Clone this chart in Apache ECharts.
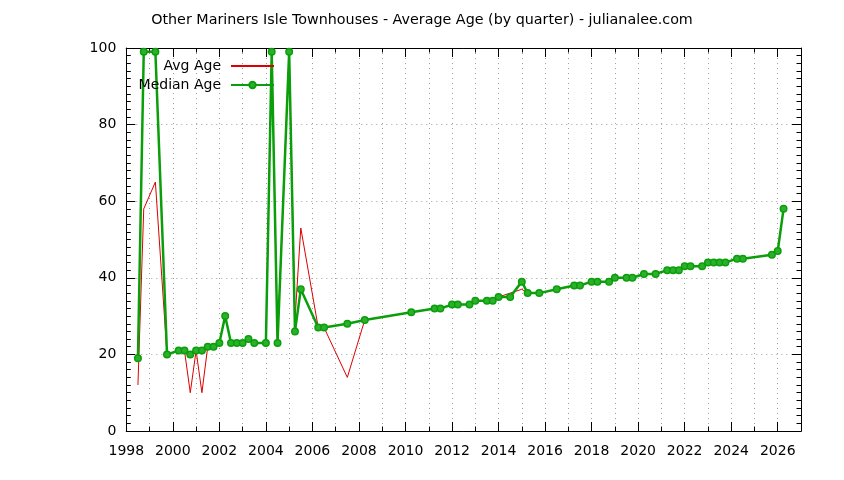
<!DOCTYPE html>
<html>
<head>
<meta charset="utf-8">
<script src="https://cdn.jsdelivr.net/npm/echarts@6/dist/echarts.min.js"></script>
<style>
  html, body { margin: 0; padding: 0; background: #fff; }
  #chart { width: 844px; height: 480px; }
</style>
</head>
<body>
<div id="chart"></div>
<script>
// quarter positions (decimal years)
var quarters = [1998.5, 1998.75, 1999.25, 1999.75, 2000.25, 2000.5, 2000.75, 2001.0, 2001.25, 2001.5,
  2001.75, 2002.0, 2002.25, 2002.5, 2002.75, 2003.0, 2003.25, 2003.5, 2004.0, 2004.25,
  2004.5, 2005.0, 2005.25, 2005.5, 2006.25, 2006.5, 2007.5, 2008.25, 2010.25, 2011.25,
  2011.5, 2012.0, 2012.25, 2012.75, 2013.0, 2013.5, 2013.75, 2014.0, 2014.5, 2015.0,
  2015.25, 2015.75, 2016.5, 2017.25, 2017.5, 2018.0, 2018.25, 2018.75, 2019.0, 2019.5,
  2019.75, 2020.25, 2020.75, 2021.25, 2021.5, 2021.75, 2022.0, 2022.25, 2022.75, 2023.0,
  2023.25, 2023.5, 2023.75, 2024.25, 2024.5, 2025.75, 2026.0, 2026.25];

var avgAge = [12, 58, 65, 20, 21, 21, 10, 21, 10, 22,
  22, 23, 30, 23, 23, 23, 24, 23, 23, 99,
  23, 99, 29, 53, 27, 27, 14, 29, 31, 32,
  32, 33, 33, 33, 34, 34, 34, 35, 36, 37,
  36, 36, 37, 38, 38, 39, 39, 39, 40, 40,
  40, 41, 41, 42, 42, 42, 43, 43, 43, 44,
  44, 44, 44, 45, 45, 46, 47, 58];

var medianAge = [19, 99, 99, 20, 21, 21, 20, 21, 21, 22,
  22, 23, 30, 23, 23, 23, 24, 23, 23, 99,
  23, 99, 26, 37, 27, 27, 28, 29, 31, 32,
  32, 33, 33, 33, 34, 34, 34, 35, 35, 39,
  36, 36, 37, 38, 38, 39, 39, 39, 40, 40,
  40, 41, 41, 42, 42, 42, 43, 43, 43, 44,
  44, 44, 44, 45, 45, 46, 47, 58];

var chartTitle = 'Other Mariners Isle Townhouses - Average Age (by quarter) - julianalee.com';

var FONT = 'DejaVu Sans';
var FS = 14;
var dotted = { color: '#a0a0a0', width: 1, type: [1, 4] };
var frame = { show: true, lineStyle: { color: '#000', width: 1 } };

function xAx(pos, step, tickLen, labels, grid) {
  return {
    type: 'value', position: pos, min: 1998, max: 2027, interval: step,
    axisLine: frame,
    axisTick: { show: true, inside: true, length: tickLen, lineStyle: { color: '#000' } },
    axisLabel: labels ? {
      show: true, margin: 13, fontFamily: FONT, fontSize: FS, color: '#000',
      formatter: function (v) { return (v % 2 === 0 && v <= 2026) ? String(v) : ''; }
    } : { show: false },
    splitLine: grid ? { show: true, lineStyle: dotted } : { show: false }
  };
}

function yAx(pos, labels) {
  return {
    type: 'value', position: pos, min: 0, max: 100, interval: 20,
    axisLine: frame,
    axisTick: { show: true, inside: true, length: 9, lineStyle: { color: '#000' } },
    minorTick: { show: true, splitNumber: 10, length: 4.5, lineStyle: { color: '#000' } },
    axisLabel: labels ? { show: true, margin: 10, fontFamily: FONT, fontSize: FS, color: '#000' } : { show: false },
    splitLine: labels ? { show: true, lineStyle: dotted } : { show: false }
  };
}

var myChart = echarts.init(document.getElementById('chart'));

var option = {
  backgroundColor: '#fff',
  animation: false,
  title: {
    text: chartTitle, left: 'center', top: 8,
    textStyle: { fontFamily: FONT, fontSize: 14.3, fontWeight: 'normal', color: '#000' }
  },
  grid: { left: 126.3, right: 43, top: 48, bottom: 49 },
  legend: {
    orient: 'vertical', align: 'right', right: 569, top: 59,
    padding: 0, itemWidth: 43, itemHeight: 8, itemGap: 5,
    textStyle: { fontFamily: FONT, fontSize: FS, color: '#000', padding: [0, 5, 0, 0] },
    data: [
      { name: 'Avg Age', itemStyle: { color: 'rgba(0,0,0,0)', borderColor: 'rgba(0,0,0,0)' } },
      { name: 'Median Age' }
    ]
  },
  xAxis: [
    xAx('bottom', 1, 4.5, true, true),
    xAx('bottom', 2, 9, false, false),
    xAx('top', 1, 4.5, false, false),
    xAx('top', 2, 9, false, false)
  ],
  yAxis: [yAx('left', true), yAx('right', false)],
  series: [
    {
      name: 'Avg Age', type: 'line', xAxisIndex: 0, yAxisIndex: 0,
      symbol: 'none', lineStyle: { color: '#dd0000', width: 1 },
      itemStyle: { color: '#dd0000' },
      data: quarters.map(function (q, i) { return [q, avgAge[i]]; })
    },
    {
      name: 'Median Age', type: 'line', xAxisIndex: 0, yAxisIndex: 0,
      symbol: 'circle', symbolSize: 6.5,
      lineStyle: { color: '#0a9f0a', width: 2.5 },
      itemStyle: { color: '#2cb02c', borderColor: '#0a9f0a', borderWidth: 1.5 },
      data: quarters.map(function (q, i) { return [q, medianAge[i]]; })
    }
  ]
};

myChart.setOption(option);
</script>
</body>
</html>
